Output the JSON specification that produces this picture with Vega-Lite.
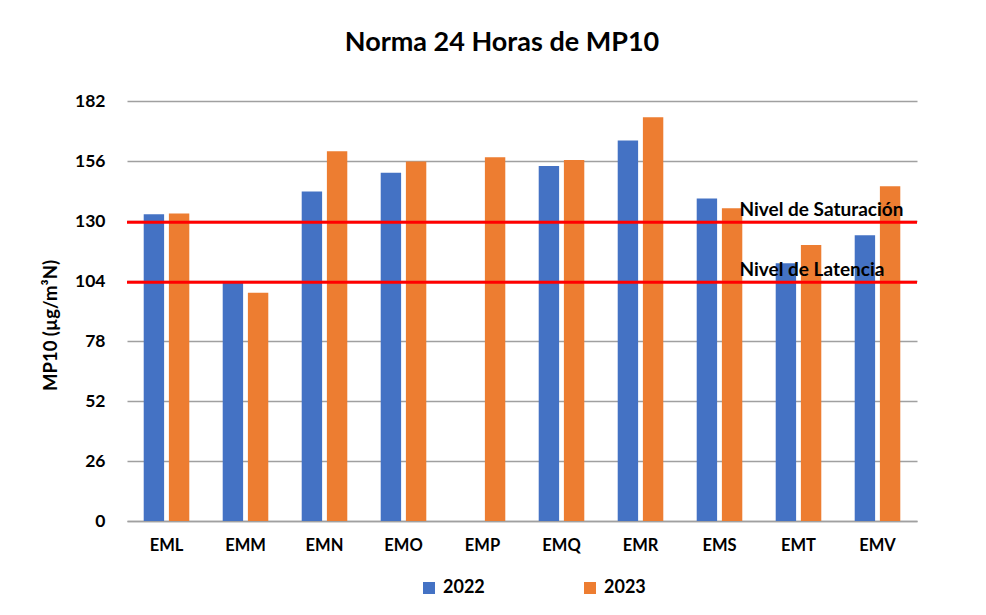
{
  "$schema": "https://vega.github.io/schema/vega-lite/v6.json",
  "width": 790,
  "height": 420,
  "autosize": {"type": "none"},
  "padding": {"left": 127, "top": 101, "right": 69, "bottom": 94},
  "background": "white",
  "title": {"text": "Norma 24 Horas de MP10", "font": "Lato", "fontSize": 27, "fontWeight": "bold", "color": "#000000", "anchor": "middle", "dx": -20, "offset": 35},
  "config": {"view": {"stroke": null}, "font": "Lato"},
  "datasets": {
    "bars": [
      {"estacion": "EML", "year": "2022", "value": 132.9},
      {"estacion": "EML", "year": "2023", "value": 133.3},
      {"estacion": "EMM", "year": "2022", "value": 104.0},
      {"estacion": "EMM", "year": "2023", "value": 98.9},
      {"estacion": "EMN", "year": "2022", "value": 142.8},
      {"estacion": "EMN", "year": "2023", "value": 160.2},
      {"estacion": "EMO", "year": "2022", "value": 150.9},
      {"estacion": "EMO", "year": "2023", "value": 155.8},
      {"estacion": "EMP", "year": "2023", "value": 157.6},
      {"estacion": "EMQ", "year": "2022", "value": 153.8},
      {"estacion": "EMQ", "year": "2023", "value": 156.4},
      {"estacion": "EMR", "year": "2022", "value": 164.9},
      {"estacion": "EMR", "year": "2023", "value": 175.0},
      {"estacion": "EMS", "year": "2022", "value": 139.8},
      {"estacion": "EMS", "year": "2023", "value": 135.5},
      {"estacion": "EMT", "year": "2022", "value": 111.7},
      {"estacion": "EMT", "year": "2023", "value": 119.6},
      {"estacion": "EMV", "year": "2022", "value": 123.8},
      {"estacion": "EMV", "year": "2023", "value": 145.1}
    ],
    "levels": [
      {"label": "Nivel de Saturación", "value": 129.5, "estacion": "EMV"},
      {"label": "Nivel de Latencia", "value": 103.5, "estacion": "EMV"}
    ]
  },
  "layer": [
    {
      "data": {"name": "bars"},
      "mark": {"type": "bar"},
      "encoding": {
        "x": {
          "field": "estacion", "type": "nominal", "sort": null,
          "scale": {"domain": ["EML", "EMM", "EMN", "EMO", "EMP", "EMQ", "EMR", "EMS", "EMT", "EMV"], "paddingInner": 0.423, "paddingOuter": 0.2115},
          "axis": {"title": null, "labelAngle": 0, "labelFont": "Lato", "labelFontSize": 16.5, "labelFontWeight": "bold", "labelColor": "#000000", "labelPadding": 16, "ticks": false, "domain": true, "domainColor": "#A0A0A0", "domainWidth": 1.5, "grid": false}
        },
        "xOffset": {"field": "year", "type": "nominal", "scale": {"domain": ["2022", "2023"], "paddingInner": 0.19, "paddingOuter": 0}},
        "y": {
          "field": "value", "type": "quantitative",
          "scale": {"domain": [0, 182], "nice": false, "zero": true},
          "axis": {"values": [0, 26, 52, 78, 104, 130, 156, 182], "title": "MP10 (µg/m³N)", "titleFont": "Lato", "titleFontSize": 18.5, "titleFontWeight": "bold", "titleColor": "#000000", "titleAngle": 270, "titleAlign": "center", "titleBaseline": "middle", "titleX": -77, "titleY": 224, "labelFont": "Lato", "labelFontSize": 17.5, "labelFontWeight": "bold", "labelColor": "#000000", "labelPadding": 22, "ticks": false, "domain": false, "grid": true, "gridColor": "#A0A0A0", "gridWidth": 1.3}
        },
        "color": {
          "field": "year", "type": "nominal",
          "scale": {"domain": ["2022", "2023"], "range": ["#4472C4", "#ED7D31"]},
          "legend": {"orient": "none", "legendX": 293, "legendY": 478, "direction": "horizontal", "title": null, "symbolType": "square", "symbolSize": 144, "symbolStrokeWidth": 0, "labelFont": "Lato", "labelFontSize": 18, "labelFontWeight": "bold", "labelColor": "#000000", "columnPadding": 96, "labelOffset": 5}
        }
      }
    },
    {
      "data": {"name": "levels"},
      "mark": {"type": "rule", "color": "#FF0000", "strokeWidth": 3},
      "encoding": {"y": {"field": "value", "type": "quantitative"}}
    },
    {
      "data": {"name": "levels"},
      "mark": {"type": "text", "align": "left", "baseline": "alphabetic", "dx": -138, "dy": -6, "font": "Lato", "fontSize": 19, "fontWeight": "bold", "color": "#000000"},
      "encoding": {
        "x": {"field": "estacion", "type": "nominal"},
        "y": {"field": "value", "type": "quantitative"},
        "text": {"field": "label"}
      }
    }
  ]
}
